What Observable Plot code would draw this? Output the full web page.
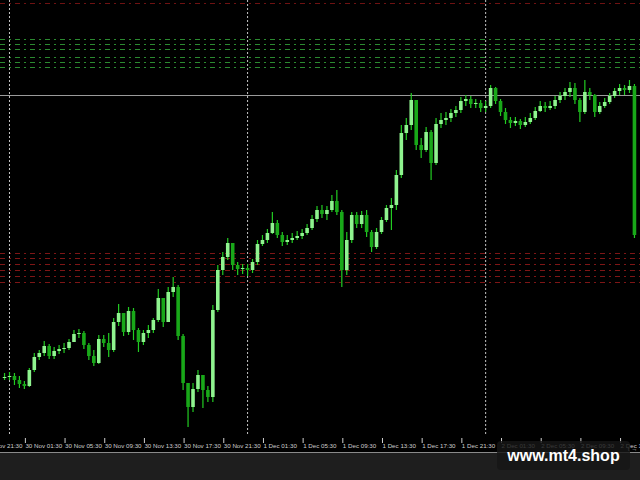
<!DOCTYPE html>
<html>
<head>
<meta charset="utf-8">
<script src="https://cdn.jsdelivr.net/npm/d3@7"></script>
<script src="https://cdn.jsdelivr.net/npm/@observablehq/plot@0.6"></script>
<style>
  html, body { margin: 0; padding: 0; background: #1e1e1e; }
  #wrap { position: relative; width: 640px; height: 480px; overflow: hidden; background: #1e1e1e; }
  #chart svg { display: block; }
  #sep { position: absolute; left: 0; top: 452px; width: 640px; height: 1px; background: #8a8a8a; }
  #wm { position: absolute; left: 497px; top: 441px; width: 133px; height: 29px; border-radius: 4px;
        background: rgba(22,22,22,0.82); color: #ffffff; font: bold 16px "Liberation Sans", Arial, sans-serif;
        text-align: center; line-height: 30px; }
</style>
</head>
<body>
<div id="wrap">
  <div id="chart"></div>
  <div id="sep"></div>
  <div id="wm">www.mt4.shop</div>
</div>
<script>
// Time axis (hours since 30 Nov 00:00)
const barStartHour = -0.5;   // first bar: 29 Nov 23:30
const barStepHours = 0.5;    // M30 bars
const firstOpen = 57;

// Prices in points
const close = [
  58,59,55,51,49,65,78,82,89,79,
  84,86,87,93,101,102,90,79,72,96,
  92,85,113,122,103,124,105,93,102,105,
  115,137,113,143,148,99,52,28,46,60,
  45,38,125,165,178,192,170,166,167,165,
  173,191,195,202,212,200,193,195,197,199,
  202,207,216,225,221,225,234,223,165,195,
  220,211,220,203,188,203,215,227,230,260,
  302,310,335,290,285,303,272,311,315,317,
  322,325,334,336,331,332,327,329,347,334,
  323,315,312,314,310,313,317,324,329,327,
  329,335,339,343,347,335,323,343,340,323,
  329,333,339,344,347,345,349,200
];
const high = [
  62,63,62,59,54,67,82,85,94,91,
  88,90,92,96,105,106,104,92,85,100,
  100,102,117,131,120,128,127,107,105,110,
  117,146,135,148,158,150,101,50,52,65,
  60,49,130,170,183,197,190,173,171,171,
  176,195,200,206,223,215,203,200,202,204,
  206,211,220,229,230,229,240,245,225,203,
  223,223,224,225,205,207,218,230,237,265,
  310,317,342,330,297,308,305,317,322,323,
  326,329,338,340,339,336,335,334,350,348,
  336,327,318,318,316,318,322,328,334,333,
  334,339,343,347,353,352,337,355,347,341,
  333,337,342,347,351,350,355,351
];
const low = [
  55,55,50,47,46,48,63,75,79,76,
  76,81,82,85,93,97,86,75,69,71,
  88,78,83,109,99,100,95,83,90,97,
  102,113,108,113,138,95,45,8,23,43,
  27,33,33,123,160,175,165,160,161,159,
  162,170,189,192,201,197,189,190,192,195,
  196,200,205,213,217,215,223,220,148,160,
  192,207,207,198,183,186,201,213,205,225,
  257,295,305,285,277,283,255,270,307,310,
  313,318,322,329,327,327,323,323,327,331,
  319,311,307,309,306,308,311,315,323,323,
  325,326,332,335,338,331,313,321,335,318,
  321,327,331,337,340,340,342,197
];

// Horizontal levels (points)
const greenLevels = [396, 391, 386, 378, 373, 368];
const redLevels = [182, 177, 171, 165, 159, 153];
const topRedLevel = [432];
const grayLevel = [340];

// Day separators (hours since 30 Nov 00:00)
const daySeparators = [0, 24, 48];

// Time-axis labels
const tickHours = [-2.5,1.5,5.5,9.5,13.5,17.5,21.5,25.5,29.5,33.5,37.5,41.5,45.5,49.5,53.5,57.5,61.5];
const tickLabels = ["29 Nov 21:30","30 Nov 01:30","30 Nov 05:30","30 Nov 09:30","30 Nov 13:30","30 Nov 17:30",
  "30 Nov 21:30","1 Dec 01:30","1 Dec 05:30","1 Dec 09:30","1 Dec 13:30","1 Dec 17:30","1 Dec 21:30",
  "2 Dec 01:30","2 Dec 05:30","2 Dec 09:30","2 Dec 13:30"];

const bars = close.map((c, i) => {
  const o = i ? close[i - 1] : firstOpen;
  return {
    t: barStartHour + i * barStepHours,
    open: o, close: c,
    high: Math.max(high[i], o, c),
    low: Math.min(low[i], o, c),
    up: c >= o
  };
});

const chart = Plot.plot({
  width: 640,
  height: 453,
  marginTop: 0,
  marginRight: 0,
  marginBottom: 18,
  marginLeft: 0,
  style: { background: "#000", fontFamily: "Liberation Sans, Arial, sans-serif", overflow: "hidden" },
  x: { domain: [-0.907, 63.61], axis: null },
  y: { domain: [0, 435], axis: null },
  marks: [
    Plot.ruleY(topRedLevel, { stroke: "#6e1212", strokeDasharray: "5,4,2,4", strokeWidth: 1 }),
    Plot.ruleY(greenLevels, { stroke: "#2b8a30", strokeDasharray: "5,4,2,4", strokeWidth: 1 }),
    Plot.ruleY(redLevels, { stroke: "#7e1616", strokeDasharray: "5,4,2,4", strokeWidth: 1 }),
    Plot.ruleY(grayLevel, { stroke: "#9a9a9a", strokeWidth: 1 }),
    Plot.ruleX(daySeparators, { stroke: "#c4c4c4", strokeDasharray: "2,2", strokeWidth: 1 }),
    Plot.ruleX(bars, { x: "t", y1: "low", y2: "high", stroke: "#22cc22", strokeWidth: 1.2, clip: true }),
    Plot.ruleX(bars, { x: "t", y1: "open", y2: "close", stroke: d => d.up ? "#8ff38f" : "#19a819", strokeWidth: 3.6, clip: true }),
    Plot.axisX({
      ticks: tickHours,
      tickFormat: d => tickLabels[tickHours.indexOf(d)],
      anchor: "bottom",
      tickSize: 5,
      tickPadding: 0,
      textAnchor: "start",
      dx: 1,
      dy: 3,
      fontSize: 6.2,
      color: "#cfcfcf"
    })
  ]
});
document.getElementById("chart").appendChild(chart);
</script>
</body>
</html>
